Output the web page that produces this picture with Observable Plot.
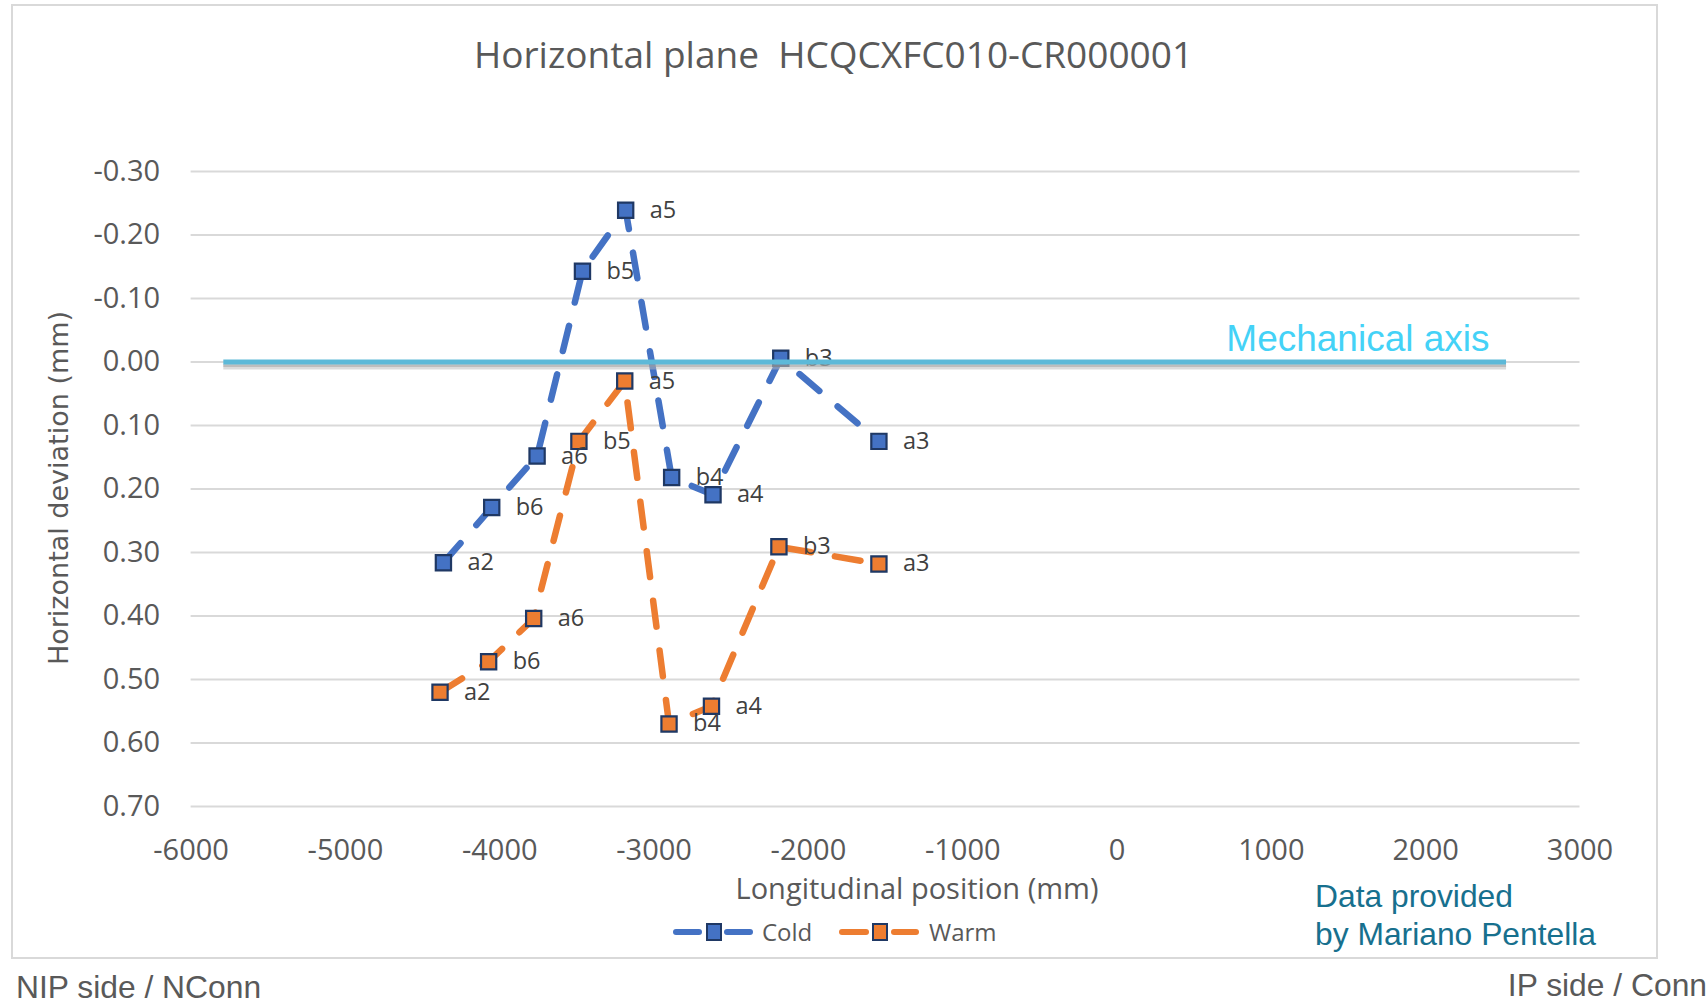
<!DOCTYPE html>
<html>
<head>
<meta charset="utf-8">
<script src="https://cdn.jsdelivr.net/npm/d3@7"></script>
<script src="https://cdn.jsdelivr.net/npm/@observablehq/plot@0.6"></script>
<style>
  html, body { margin: 0; padding: 0; background: #ffffff; }
  #page { position: relative; width: 1708px; height: 1007px; overflow: hidden; background: #ffffff; }
  #frame { position: absolute; left: 11px; top: 4px; width: 1643px; height: 951px; border: 2.5px solid #d9d9d9; box-sizing: content-box; }
  #chart, #overlay { position: absolute; left: 0; top: 0; }
  #overlay text { white-space: pre; }
</style>
</head>
<body>
<div id="page">
  <div id="frame"></div>
  <div id="chart"></div>
  <svg id="overlay" width="1708" height="1007"></svg>
</div>
<script>
// ---------------- data ----------------
const positions = ["a2", "b6", "a6", "b5", "a5", "b4", "a4", "b3", "a3"];
const coldX = [-4365, -4052, -3758, -3464, -3184, -2886, -2618, -2179, -1543];
const coldY = [0.316, 0.229, 0.148, -0.143, -0.239, 0.182, 0.209, -0.006, 0.125];
const warmX = [-4387, -4072, -3780, -3487, -3190, -2903, -2628, -2191, -1543];
const warmY = [0.520, 0.472, 0.404, 0.125, 0.030, 0.570, 0.542, 0.291, 0.318];

const xTicks = [-6000, -5000, -4000, -3000, -2000, -1000, 0, 1000, 2000, 3000];
const yTicks = [-0.3, -0.2, -0.1, 0, 0.1, 0.2, 0.3, 0.4, 0.5, 0.6, 0.7];
const xDomain = [-6000, 3000];
const yDomain = [-0.3, 0.7];

const mechAxisY = [0];
const mechAxisFrom = [-5788];
const mechAxisTo = [2524];
const mechAxisLabel = ["Mechanical axis"];

const seriesNames = ["Cold", "Warm"];
const titleText = "Horizontal plane  HCQCXFC010-CR000001";
const xLabel = "Longitudinal position (mm)";
const yLabel = "Horizontal deviation (mm)";
const creditLines = ["Data provided", "by Mariano Pentella"];
const leftNote = "NIP side / NConn";
const rightNote = "IP side / Conn";

// ---------------- tables ----------------
const cold = positions.map((p, i) => ({series: "Cold", pos: p, x: coldX[i], y: coldY[i]}));
const warm = positions.map((p, i) => ({series: "Warm", pos: p, x: warmX[i], y: warmY[i]}));
const mech = mechAxisY.map((y, i) => ({y, x1: mechAxisFrom[i], x2: mechAxisTo[i], label: mechAxisLabel[i]}));

const BLUE = "#4472C4", ORANGE = "#ED7D31", EDGE = "#1F3864";
const dash = "26,24";

const lineOpts = (c) => ({x: "x", y: "y", stroke: c, strokeWidth: 6.5, strokeDasharray: dash, strokeLinecap: "round", strokeLinejoin: "round"});
const dotOpts = (c) => ({x: "x", y: "y", symbol: "square", r: 8.6, fill: c, stroke: EDGE, strokeWidth: 2.2});
const labelOpts = {x: "x", y: "y", text: "pos", dx: 24, textAnchor: "start", fontSize: 23.5, fontFamily: "Open Sans", fill: "#404040"};

const chart = Plot.plot({
  width: 1708,
  height: 1007,
  marginLeft: 190.6,
  marginRight: 128.5,
  marginTop: 171,
  marginBottom: 201,
  style: {fontFamily: "Open Sans", fontSize: "29px", color: "#595959", background: "transparent", overflow: "visible"},
  x: {domain: xDomain, ticks: xTicks, tickFormat: d => String(d), tickSize: 0, tickPadding: 33, label: null},
  y: {domain: yDomain, reverse: true, ticks: yTicks, tickFormat: d => d.toFixed(2), tickSize: 0, tickPadding: 31, label: null},
  marks: [
    Plot.ruleY(yTicks, {stroke: "#d9d9d9", strokeWidth: 2}),
    Plot.line(cold, lineOpts(BLUE)),
    Plot.dot(cold, dotOpts(BLUE)),
    Plot.line(warm, lineOpts(ORANGE)),
    Plot.dot(warm, dotOpts(ORANGE)),
    Plot.text(cold, labelOpts),
    Plot.text(warm, labelOpts),
    Plot.ruleY(mech, {y: "y", x1: "x1", x2: "x2", dy: 5, stroke: "#b8b8b8", strokeOpacity: 0.5, strokeWidth: 5}),
    Plot.ruleY(mech, {y: "y", x1: "x1", x2: "x2", dy: 3.5, stroke: "#9a9a9a", strokeOpacity: 0.45, strokeWidth: 3}),
    Plot.ruleY(mech, {y: "y", x1: "x1", x2: "x2", stroke: "#5DB9D8", strokeWidth: 5}),
    Plot.text(mech, {x: "x2", y: "y", text: "label", textAnchor: "end", dx: -17, dy: -22.5, fontSize: 37, fontFamily: "Liberation Sans", fill: "#44D2F7"})
  ]
});
document.getElementById("chart").appendChild(chart);

// ---------------- surrounding texts & legend ----------------
const ov = d3.select("#overlay");
ov.append("text").attr("x", 833.5).attr("y", 68).attr("text-anchor", "middle")
  .attr("font-family", "Open Sans").attr("font-size", 37).attr("fill", "#595959").text(titleText);
ov.append("text").attr("transform", "translate(68,488) rotate(-90)").attr("text-anchor", "middle")
  .attr("font-family", "DejaVu Sans").attr("font-size", 27).attr("fill", "#595959").text(yLabel);
ov.append("text").attr("x", 917).attr("y", 899).attr("text-anchor", "middle")
  .attr("font-family", "Open Sans").attr("font-size", 29).attr("fill", "#595959").text(xLabel);

// legend
const legendItems = [
  {name: seriesNames[0], color: BLUE, l1: 676, l2: 699, l3: 727, l4: 750, m: 714, t: 762},
  {name: seriesNames[1], color: ORANGE, l1: 842, l2: 866, l3: 894, l4: 916, m: 880, t: 929}
];
const ly = 932;
legendItems.forEach(it => {
  ov.append("line").attr("x1", it.l1).attr("x2", it.l2).attr("y1", ly).attr("y2", ly)
    .attr("stroke", it.color).attr("stroke-width", 6).attr("stroke-linecap", "round");
  ov.append("line").attr("x1", it.l3).attr("x2", it.l4).attr("y1", ly).attr("y2", ly)
    .attr("stroke", it.color).attr("stroke-width", 6).attr("stroke-linecap", "round");
  ov.append("rect").attr("x", it.m - 7).attr("y", ly - 8).attr("width", 14).attr("height", 16)
    .attr("fill", it.color).attr("stroke", EDGE).attr("stroke-width", 2);
  ov.append("text").attr("x", it.t).attr("y", ly + 8.5).attr("font-family", "Open Sans")
    .attr("font-size", 24).attr("fill", "#595959").text(it.name);
});

creditLines.forEach((s, i) => {
  ov.append("text").attr("x", 1315).attr("y", 907 + i * 38).attr("font-family", "Liberation Sans")
    .attr("font-size", 31.8).attr("fill", "#17708E").text(s);
});
ov.append("text").attr("x", 16).attr("y", 998).attr("font-family", "Liberation Sans")
  .attr("font-size", 31.8).attr("fill", "#595959").text(leftNote);
ov.append("text").attr("x", 1707).attr("y", 996).attr("text-anchor", "end").attr("font-family", "Liberation Sans")
  .attr("font-size", 31.8).attr("fill", "#595959").text(rightNote);
</script>
</body>
</html>
